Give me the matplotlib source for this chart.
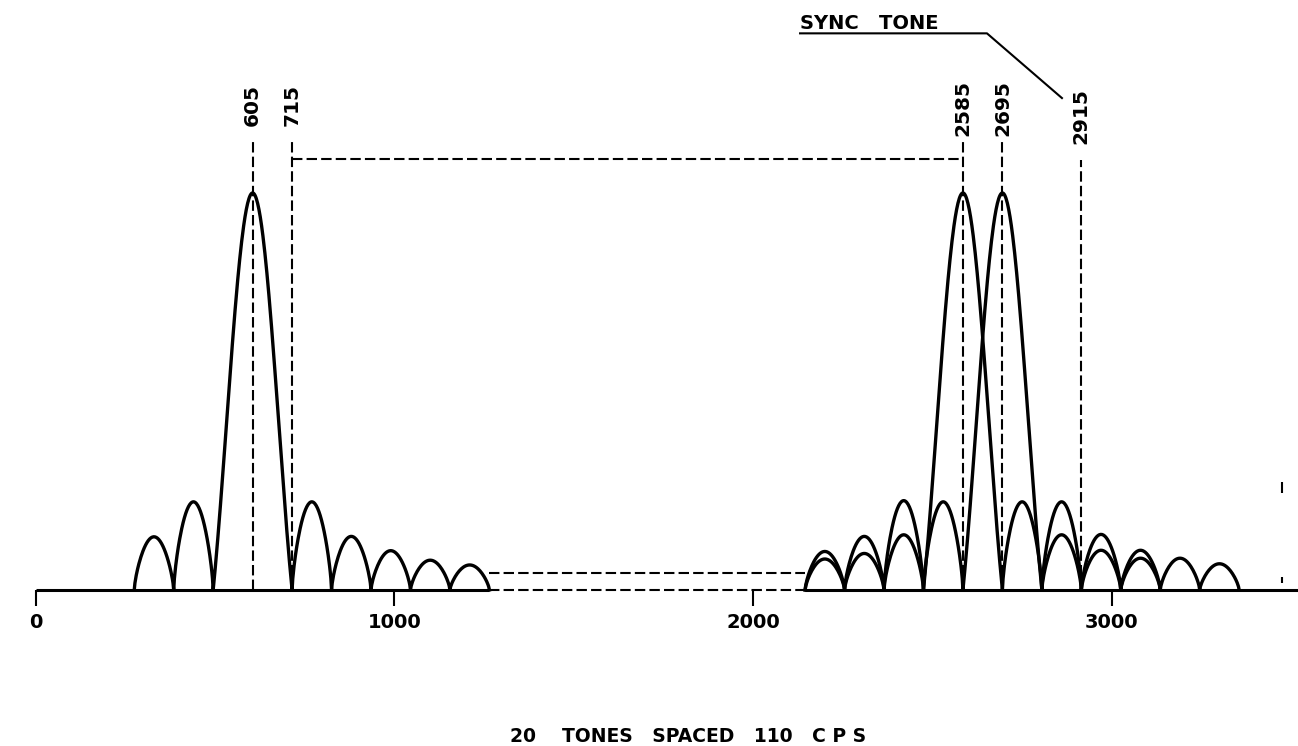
import numpy as np
import matplotlib
matplotlib.use("Agg")
import matplotlib.pyplot as plt

# Tone spectra (heights relative to the main lobe)
tone_spacing = 110
tone_centres = [605, 2585, 2695]
tone_peaks = [1.0, 1.0, 1.0]
# side lobe heights, innermost lobe first
lobes_left_605 = [0.222, 0.134]
lobes_right_605 = [0.222, 0.135, 0.099, 0.075, 0.063]
lobes_left_2585 = [0.225, 0.135, 0.097]
lobes_right_2585 = [0.222, 0.139, 0.100, 0.080]
lobes_left_2695 = [0.222, 0.139, 0.092, 0.078]
lobes_right_2695 = [0.222, 0.140, 0.100, 0.080, 0.066]

# Dashed reference lines and their labels
marker_freqs = [605, 715, 2585, 2695, 2915]
marker_labels = ["605", "715", "2585", "2695", "2915"]
marker_tops = [1.129, 1.129, 1.134, 1.134, 1.083]
label_bottoms = [1.169, 1.169, 1.144, 1.144, 1.123]
bracket_from = 715
bracket_to = 2585
bracket_level = 1.086

# Broken part of the spectrum between the two groups
gap_start = 1265
gap_end = 2145
gap_level = 0.042

# Sync tone callout
sync_text = "SYNC   TONE"
sync_line_x = [2131, 2652, 2861]
sync_line_y = [1.402, 1.402, 1.239]

# stray marks at the right edge
stray_x = [3475, 3475]
stray_low = [0.244, 0.018]
stray_high = [0.272, 0.033]

x_ticks = [0, 1000, 2000, 3000]
x_max = 3519
caption = "20    TONES   SPACED   110   C P S"


def tone_curve(centre, peak, left, right, n=60):
    """Build one |sinc|-like tone spectrum lobe by lobe."""
    xs, ys = [], []
    u = np.linspace(0, 1, n)
    for k in range(len(left), 0, -1):
        a = centre - (k + 1) * tone_spacing
        xs.append(a + u * tone_spacing)
        ys.append(left[k - 1] * np.sin(np.pi * u) ** 0.7)
    v = np.linspace(-1, 1, 2 * n)
    xs.append(centre + v * tone_spacing)
    ys.append(peak * np.sinc(v))
    for k in range(1, len(right) + 1):
        a = centre + k * tone_spacing
        xs.append(a + u * tone_spacing)
        ys.append(right[k - 1] * np.sin(np.pi * u) ** 0.7)
    return np.concatenate(xs), np.concatenate(ys)


def main():
    fig = plt.figure(figsize=(12.98, 7.46), dpi=100)
    ax = fig.add_axes([0, 0, 1, 1])
    ax.set_xlim(-99.2, x_max)
    ax.set_ylim(-0.393, 1.486)

    lw = 2.4
    dash_lw = 1.5
    dash = (0, (5, 2))

    # Spectra
    left_lobes = [lobes_left_605, lobes_left_2585, lobes_left_2695]
    right_lobes = [lobes_right_605, lobes_right_2585, lobes_right_2695]
    for c, p, l, r in zip(tone_centres, tone_peaks, left_lobes, right_lobes):
        x, y = tone_curve(c, p, l, r)
        ax.plot(x, y, color="black", lw=lw, zorder=3)

    # Baseline, broken by dashes between the groups
    ax.plot([0, gap_start], [0, 0], color="black", lw=2.2, solid_capstyle="butt")
    ax.plot([gap_end, x_max], [0, 0], color="black", lw=2.2, solid_capstyle="butt")
    ax.plot([gap_start, gap_end], [0, 0], color="black", lw=dash_lw, linestyle=dash)
    ax.plot([gap_start, gap_end], [gap_level, gap_level], color="black", lw=dash_lw, linestyle=dash)

    # Vertical markers with rotated labels
    for f, lab, top, lb in zip(marker_freqs, marker_labels, marker_tops, label_bottoms):
        ax.plot([f, f], [0, top], color="black", lw=dash_lw, linestyle=dash, zorder=2)
        ax.text(f, lb, lab, rotation=90, ha="center", va="bottom",
                fontsize=14.5, fontweight="bold")
    ax.plot([bracket_from, bracket_to], [bracket_level, bracket_level],
            color="black", lw=dash_lw, linestyle=dash, zorder=2)

    # Sync tone callout
    ax.plot(sync_line_x, sync_line_y, color="black", lw=1.5)
    ax.text(sync_line_x[0], 1.412, sync_text, ha="left", va="baseline",
            fontsize=14, fontweight="bold")

    ax.vlines(stray_x, stray_low, stray_high, color="black", lw=1.5)

    # Axis ticks hang from the baseline
    for side in ["left", "right", "top"]:
        ax.spines[side].set_visible(False)
    ax.spines["bottom"].set_position(("data", 0))
    ax.spines["bottom"].set_color("none")
    ax.set_yticks([])
    ax.set_xticks(x_ticks)
    ax.set_xticklabels([str(t) for t in x_ticks], fontsize=14, fontweight="bold")
    ax.tick_params(axis="x", direction="out", length=11.5, width=1.5, pad=5,
                   color="black")
    ax.patch.set_visible(False)

    fig.text(688 / 1298, 1 - 737 / 746, caption, ha="center", va="center",
             fontsize=13.5, fontweight="bold")

    fig.savefig("out.png", dpi=100, facecolor="white")


if __name__ == "__main__":
    main()
